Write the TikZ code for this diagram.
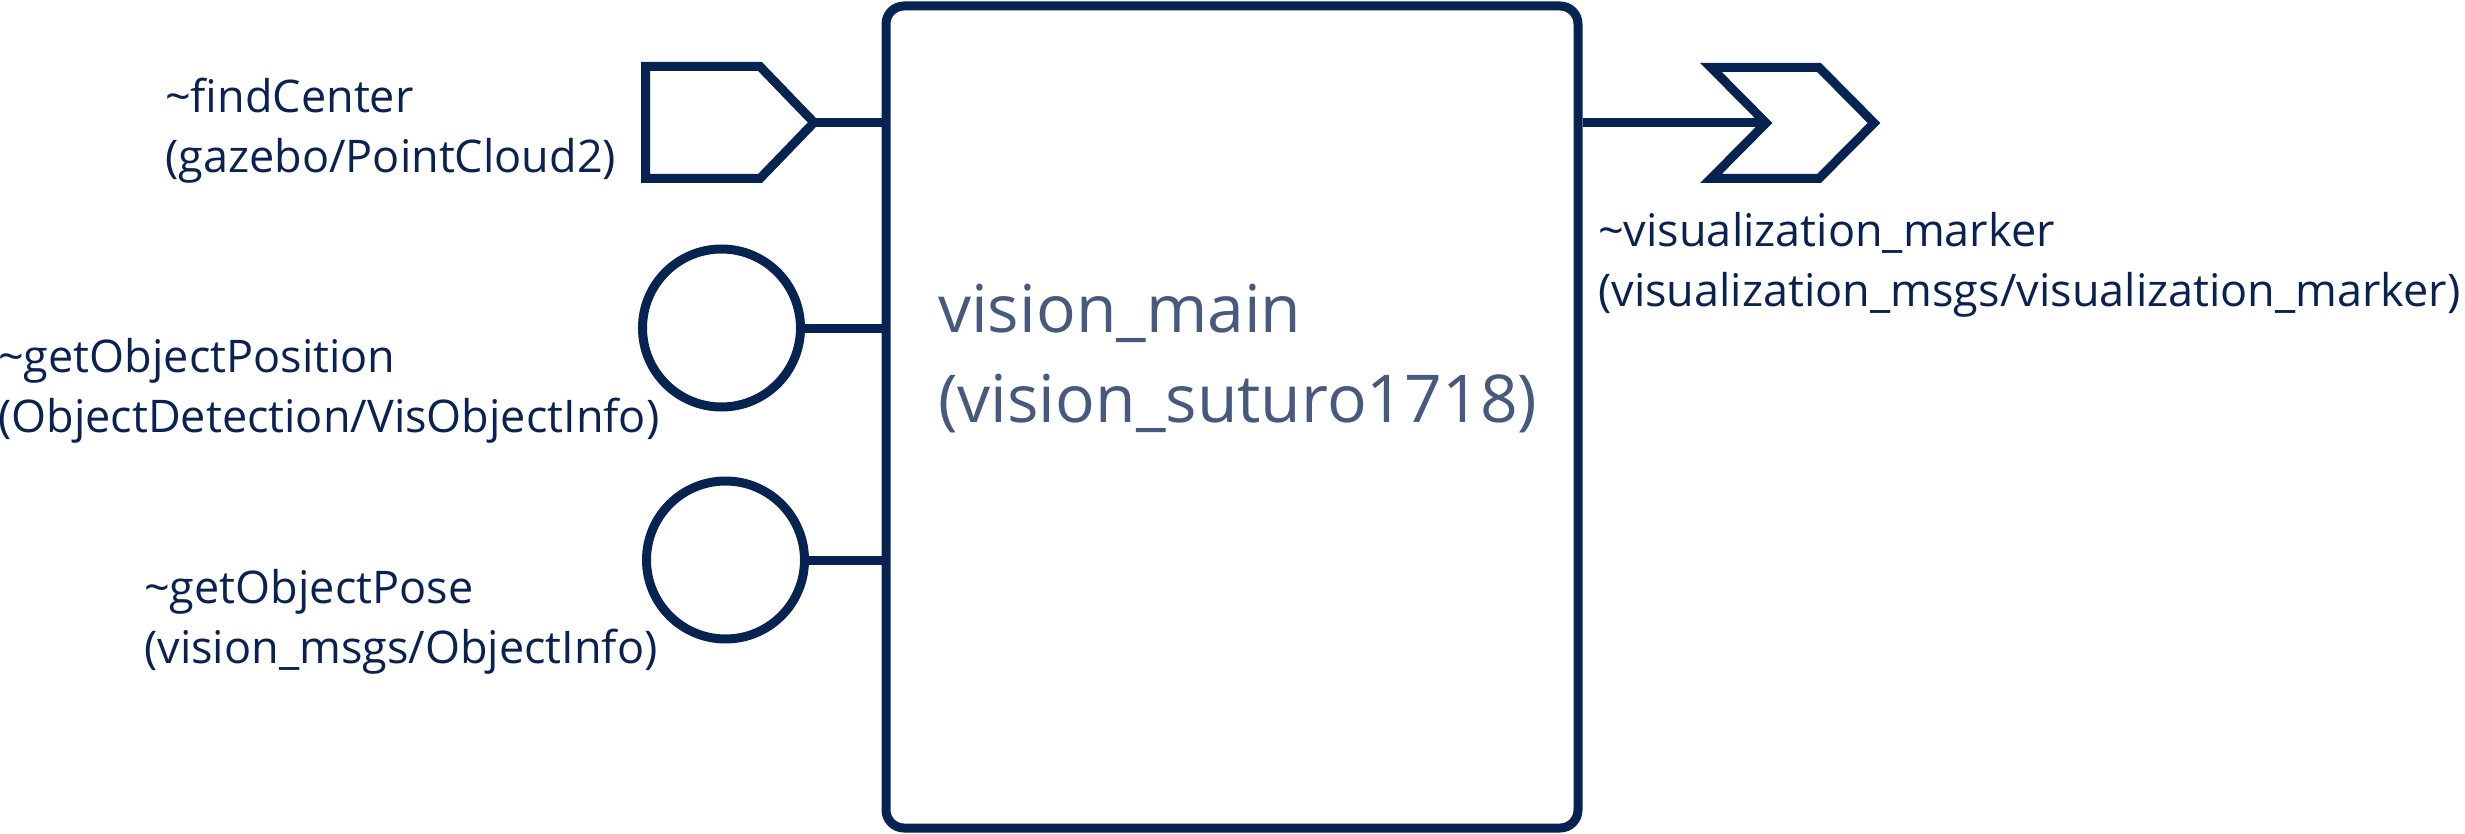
\documentclass[tikz,border=0pt]{standalone}
\usepackage{fontspec}
\setmainfont{Open Sans}
\definecolor{navy}{HTML}{062352}
\definecolor{labeltext}{HTML}{0A2252}
\definecolor{maintext}{HTML}{475A7E}
\begin{document}
\begin{tikzpicture}[x=1pt,y=-1pt,
  stroke/.style={draw=navy,line width=9pt},
  conn/.style={draw=navy,line width=9pt},
  lbl/.style={inner sep=0pt,anchor=base west,text=labeltext,font=\fontsize{45}{60}\selectfont},
  mainlbl/.style={inner sep=0pt,anchor=base west,text=maintext,font=\fontsize{66}{90}\selectfont},
  port/.style={circle,draw=navy,line width=9pt,minimum size=158pt,inner sep=0pt,fill=white}]
\useasboundingbox (0,0) rectangle (2465,834);
% main block
\node[stroke,rounded corners=18pt,minimum width=692pt,minimum height=822pt,inner sep=0pt] (main) at (1232,417) {};
\node[mainlbl] (mainname) at (938,332) {\begin{tabular}[t]{@{}l@{}}vision\_main\\(vision\_suturo1718)\end{tabular}};
% subscriber (pentagon)
\draw[stroke] (645.5,66.5) -- (760,66.5) -- (814,122.5) -- (760,178.5) -- (645.5,178.5) -- cycle;
\coordinate (subtip) at (814,122.5);
\draw[conn] (subtip) -- (subtip -| main.west);
% services (circles)
\node[port] (srvA) at (721.5,328) {};
\node[port] (srvB) at (725.5,560) {};
\draw[conn] (srvA.east) -- (srvA.east -| main.west);
\draw[conn] (srvB.east) -- (srvB.east -| main.west);
% publisher (chevron)
\draw[stroke] (1711,67.5) -- (1819,67.5) -- (1874,123) -- (1819,178.5) -- (1711,178.5) -- (1766,123) -- cycle;
\coordinate (pubnotch) at (1766,123);
\draw[conn] (pubnotch -| main.east) -- (pubnotch);
% labels
\node[lbl] (lblA) at (165,113) {\begin{tabular}[t]{@{}l@{}}\textasciitilde findCenter\\(gazebo/PointCloud2)\end{tabular}};
\node[lbl] (lblB) at (-2,372) {\begin{tabular}[t]{@{}l@{}}\textasciitilde getObjectPosition\\(ObjectDetection/VisObjectInfo)\end{tabular}};
\node[lbl] (lblC) at (144,603) {\begin{tabular}[t]{@{}l@{}}\textasciitilde getObjectPose\\(vision\_msgs/ObjectInfo)\end{tabular}};
\node[lbl] (lblD) at (1598,247) {\begin{tabular}[t]{@{}l@{}}\textasciitilde visualization\_marker\\(visualization\_msgs/visualization\_marker)\end{tabular}};
\end{tikzpicture}
\end{document}
